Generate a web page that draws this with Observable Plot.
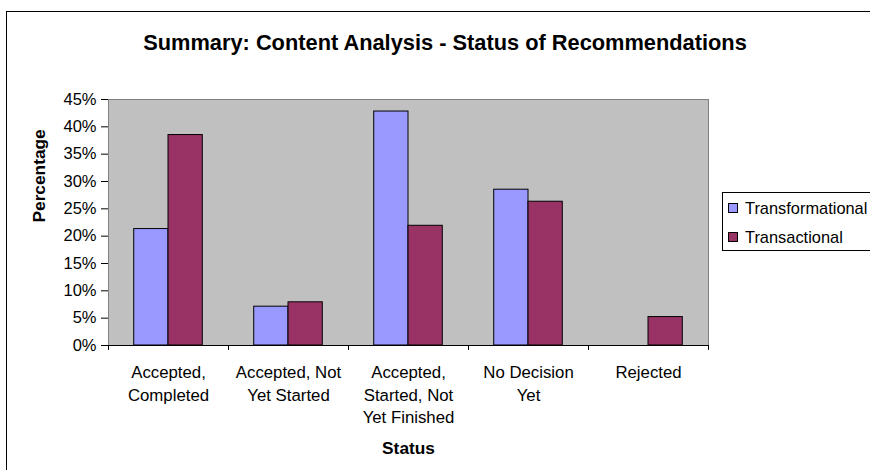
<!DOCTYPE html>
<html>
<head>
<meta charset="utf-8">
<script src="https://cdn.jsdelivr.net/npm/d3@7"></script>
<script src="https://cdn.jsdelivr.net/npm/@observablehq/plot@0.6"></script>
<style>
  html, body { margin: 0; padding: 0; background: #fff; }
  #wrap { position: relative; width: 870px; height: 470px; overflow: hidden; font-family: "Liberation Sans", Arial, sans-serif; }
  #border { position: absolute; left: 6px; top: 11px; width: 900px; height: 500px; border: 1px solid #000; box-sizing: border-box; }
  #title { position: absolute; left: 0; width: 890px; top: 30px; text-align: center; font-weight: bold; font-size: 21.8px; color: #000; }
  #chart { position: absolute; left: 0; top: 0; }
  #legend { position: absolute; left: 722px; top: 192px; width: 170px; height: 59px; border: 1px solid #000; box-sizing: border-box; background: #fff; }
  .row { position: absolute; left: 5px; font-size: 16.4px; line-height: 18px; color: #000; white-space: nowrap; }
  .sw { display: inline-block; width: 8px; height: 8px; border: 1px solid #000; margin-right: 7px; vertical-align: 1px; }
</style>
</head>
<body>
<div id="wrap">
  <div id="border"></div>
  <div id="title">Summary: Content Analysis - Status of Recommendations</div>
  <div id="chart"></div>
  <div id="legend"></div>
</div>
<script>
const statuses = ["Accepted, Completed", "Accepted, Not Yet Started", "Accepted, Started, Not Yet Finished", "No Decision Yet", "Rejected"];
const tickLabels = ["Accepted,\nCompleted", "Accepted, Not\nYet Started", "Accepted,\nStarted, Not\nYet Finished", "No Decision\nYet", "Rejected"];
const seriesNames = ["Transformational", "Transactional"];
const transformational = [0.213, 0.071, 0.428, 0.285, 0.0];
const transactional = [0.385, 0.079, 0.219, 0.263, 0.052];
const seriesColors = ["#9999FF", "#993366"];
const yTicks = [0, 0.05, 0.10, 0.15, 0.20, 0.25, 0.30, 0.35, 0.40, 0.45];

const data = [];
statuses.forEach((s, i) => {
  data.push({status: s, series: seriesNames[0], value: transformational[i]});
  data.push({status: s, series: seriesNames[1], value: transactional[i]});
});

const W = 870, H = 470, mL = 108, mR = 162, mT = 99, mB = 125;
const band = (W - mL - mR) / statuses.length;
const barW = band / 3.5;            // Excel gap width 150%
const gap = (band - 2 * barW) / 2;

const chart = Plot.plot({
  width: W, height: H,
  marginLeft: mL, marginRight: mR, marginTop: mT, marginBottom: mB,
  style: {fontFamily: "'Liberation Sans', Arial, sans-serif", fontSize: "16.5px", color: "#000", background: "transparent"},
  x: {domain: statuses, padding: 0, axis: null},
  y: {domain: [0, 0.45], axis: null},
  color: {domain: seriesNames, range: seriesColors},
  marks: [
    Plot.frame({fill: "#C0C0C0", stroke: "#808080"}),
    Plot.barY(data.filter(d => d.series === seriesNames[0]), {x: "status", y: "value", fill: "series", stroke: "#000", strokeWidth: 1, insetLeft: gap, insetRight: band - gap - barW}),
    Plot.barY(data.filter(d => d.series === seriesNames[1]), {x: "status", y: "value", fill: "series", stroke: "#000", strokeWidth: 1, insetLeft: gap + barW, insetRight: gap}),
    Plot.axisY({ticks: yTicks, tickFormat: d3.format(".0%"), tickSize: 7, tickPadding: 5, label: null, fontSize: 16.5, stroke: "#000"}),
    Plot.ruleX([0], {frameAnchor: "left", stroke: "#000"}),
    Plot.ruleY([0], {stroke: "#000"}),
    Plot.ruleX(statuses, {x: d => d, dx: -band / 2, y1: 0, y2: -0.009, stroke: "#000"}),
    Plot.ruleX(statuses.slice(-1), {x: d => d, dx: band / 2, y1: 0, y2: -0.009, stroke: "#000"}),
    Plot.axisX({tickSize: 0, tickPadding: 17, tickFormat: d => tickLabels[statuses.indexOf(d)], fontSize: 16.8, lineHeight: 1.33, label: null}),
    Plot.text(["Percentage"], {frameAnchor: "left", dx: -69, rotate: -90, fontWeight: "bold", fontSize: 17.3, text: d => d}),
    Plot.text(["Status"], {frameAnchor: "bottom", dy: 108, fontWeight: "bold", fontSize: 17.3, text: d => d})
  ]
});
document.getElementById("chart").appendChild(chart);

const leg = document.getElementById("legend");
seriesNames.forEach((name, i) => {
  const row = document.createElement("div");
  row.className = "row";
  row.style.top = (6 + i * 29) + "px";
  row.innerHTML = `<span class="sw" style="background:${seriesColors[i]}"></span>${name}`;
  leg.appendChild(row);
});
</script>
</body>
</html>
